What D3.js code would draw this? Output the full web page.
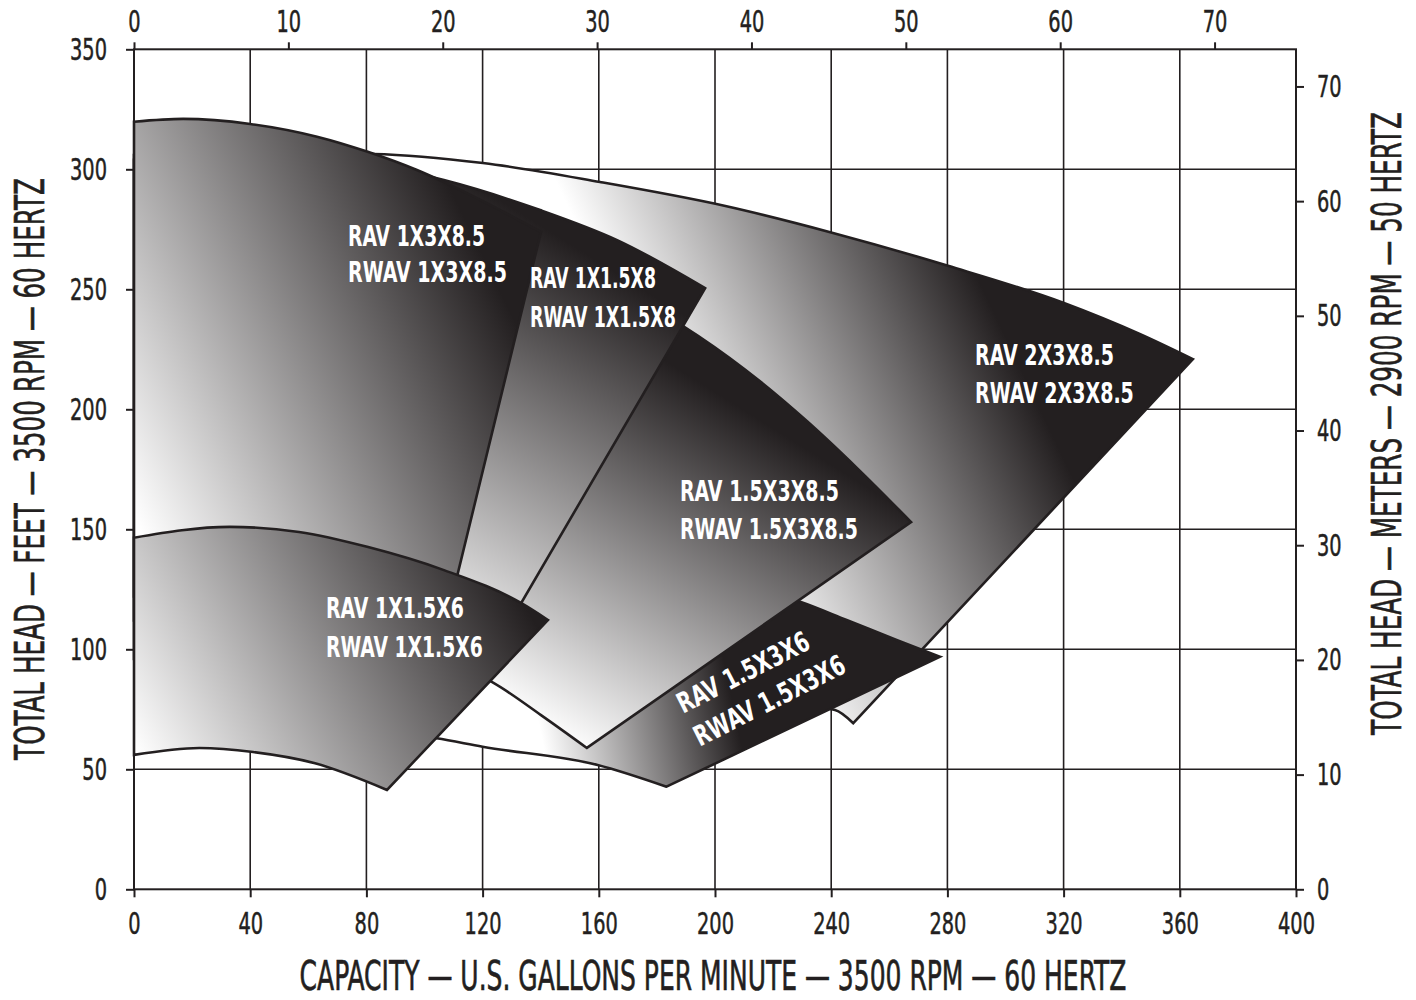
<!DOCTYPE html>
<html><head><meta charset="utf-8">
<script src="https://cdn.jsdelivr.net/npm/d3@7"></script>
<style>
body{margin:0;background:#fff;}
svg{display:block;}
</style></head><body>
<svg id="chart" width="1416" height="1000"></svg>
<script>
// ================= DATA =================
// models, drawn back to front
const models = ["2X3X8.5", "1.5X3X6", "1.5X3X8.5", "1X1.5X8", "1X3X8.5", "1X1.5X6"];
const ravLabels  = ["RAV 2X3X8.5", "RAV 1.5X3X6", "RAV 1.5X3X8.5", "RAV 1X1.5X8", "RAV 1X3X8.5", "RAV 1X1.5X6"];
const rwavLabels = ["RWAV 2X3X8.5", "RWAV 1.5X3X6", "RWAV 1.5X3X8.5", "RWAV 1X1.5X8", "RWAV 1X3X8.5", "RWAV 1X1.5X6"];

// head curves [gpm, feet] : max impeller (top) and min impeller (bottom)
const top_2X3X85    = [[0,304],[40,307],[82.4,306.4],[120.1,302.6],[160.4,294.7],[203.2,284.8],[240.3,273.6],[280.2,259.8],[320.1,244.3],[346,231.5],[364.5,220.9]];
const bottom_2X3X85 = [[0,96],[60,94],[120,90],[180,84],[241.3,74.7],[247.6,69.2]];

const top_15X3X6    = [[60,150],[100,146],[140,140],[180,131],[229.3,119.8],[245.3,112.2],[262.5,103.9],[277.5,96.9]];
const bottom_15X3X6 = [[60,69],[80,66.5],[104.2,62.9],[120,59.4],[159.6,51.8],[183.3,42.75]];

const top_15X3X85    = [[120,268],[150,258],[170,248],[189,234.7],[210.3,216.6],[231.7,195],[248.9,175.5],[267.5,153]];
const bottom_15X3X85 = [[120,88.5],[123.9,85.9],[140.1,72.6],[155.9,58.9]];

const top_1X15X8    = [[0,306],[40,307],[80,302.5],[106.7,295.5],[139.8,283],[166.3,270.5],[196.6,250.5]];
const bottom_1X15X8 = [[0,122],[40,123],[80,116],[105,106],[121.8,95.5]];

const top_1X3X85    = [[0,319.8],[16.9,321],[40,318.9],[63,313.6],[80.2,307.4],[97.4,299.7],[114.6,290.1],[140.1,273.9]];
const bottom_1X3X85 = [[0,112],[30,113],[60,107],[85,96],[102.1,85.1]];

const top_1X15X6    = [[0,146.5],[33,151],[56.8,148.9],[80.6,142.6],[106.7,133],[133.2,119.3],[142.5,112.2]];
const bottom_1X15X6 = [[0,56],[22.5,58.9],[41,57.2],[62,52.6],[87.1,41.4]];

const topCurves    = [top_2X3X85, top_15X3X6, top_15X3X85, top_1X15X8, top_1X3X85, top_1X15X6];
const bottomCurves = [bottom_2X3X85, bottom_15X3X6, bottom_15X3X85, bottom_1X15X8, bottom_1X3X85, bottom_1X15X6];

// axis ticks
const gpmTicks    = [0,40,80,120,160,200,240,280,320,360,400];
const feetTicks   = [0,50,100,150,200,250,300,350];
const m3hTicks    = [0,10,20,30,40,50,60,70];
const meterTicks  = [0,10,20,30,40,50,60,70];

const xTitle  = "CAPACITY — U.S. GALLONS PER MINUTE — 3500 RPM — 60 HERTZ";
const yTitleL = "TOTAL HEAD — FEET — 3500 RPM — 60 HERTZ";
const yTitleR = "TOTAL HEAD — METERS — 2900 RPM — 50 HERTZ";

// ================= STYLE / LAYOUT =================
const W = 1416, H = 1000;
const plot = {left:134, right:1296, top:49.3, bottom:889.3};
const INK = "#231f20";
const FONT = "'Liberation Sans Narrow','Arial Narrow','DejaVu Sans Condensed','Roboto Condensed',sans-serif";
// unit conversions for the secondary axes (2900 rpm / 50 Hz)
const speedRatio = 2900/3500;
const gpmToM3h = 0.227125;
const ftToM = 0.3048;

// gradient anchors in data units [gpm, ft] (light end -> dark end)
const gradAnchors = [
  [[146.6,291.4],[252.0,352.2]],
  [[139.8,66.4],[205.2,83.0]],
  [[146.6,62.2],[215.5,195.5]],
  [[105.0,98.0],[181.1,245.5]],
  [[0.3,153.9],[132.9,232.2]],
  [[2.1,53.9],[126.0,137.2]]
];
// label placement (data units for first line baseline-left), rotation, line gap px, widths px
const labelStyle = [
  {at:[289.5,218.5], rot:0,   gap:38, len:[139,159]},
  {at:[189.0,73.1],  rot:-27, gap:37, len:[145,166]},
  {at:[187.95,161.8],rot:0,   gap:38, len:[159,178]},
  {at:[136.3,250.5], rot:0,   gap:39, len:[126,146]},
  {at:[73.67,268.0], rot:0,   gap:36, len:[137,159]},
  {at:[66.1,113.0],  rot:0,   gap:39, len:[138,157]}
];

// ================= SCALES =================
const x = d3.scaleLinear().domain([0,400]).range([plot.left, plot.right]);
const y = d3.scaleLinear().domain([0,350]).range([plot.bottom, plot.top]);
const xTop = d3.scaleLinear().domain([0, 400*speedRatio*gpmToM3h]).range([plot.left, plot.right]);
const yRight = d3.scaleLinear().domain([0, 350*speedRatio*speedRatio*ftToM]).range([plot.bottom, plot.top]);

const svg = d3.select("#chart");
svg.append("rect").attr("width",W).attr("height",H).attr("fill","#fff");

// helper: place a text and squeeze it horizontally to a target width
function fitText(parent, str, tx, ty, rot, targetW, anchor){
  const t = parent.append("text").attr("x",0).attr("y",0).attr("text-anchor",anchor||"start").text(str);
  const w = t.node().getComputedTextLength();
  const s = w > 0 ? targetW / w : 1;
  t.attr("transform",`translate(${tx},${ty}) rotate(${rot}) scale(${s},1)`);
  return t;
}

// ---- grid ----
const grid = svg.append("g").attr("stroke",INK).attr("stroke-width",1.6);
grid.selectAll("line.v").data(gpmTicks.slice(1,-1)).join("line")
  .attr("x1",d=>x(d)).attr("x2",d=>x(d)).attr("y1",plot.top).attr("y2",plot.bottom);
grid.selectAll("line.h").data(feetTicks.slice(1,-1)).join("line")
  .attr("x1",plot.left).attr("x2",plot.right).attr("y1",d=>y(d)).attr("y2",d=>y(d));

// ---- gradients ----
const defs = svg.append("defs");
models.forEach((m,i)=>{
  const g = defs.append("linearGradient").attr("id","g"+i).attr("gradientUnits","userSpaceOnUse")
    .attr("x1",x(gradAnchors[i][0][0])).attr("y1",y(gradAnchors[i][0][1]))
    .attr("x2",x(gradAnchors[i][1][0])).attr("y2",y(gradAnchors[i][1][1]));
  g.append("stop").attr("offset",0).attr("stop-color","#ffffff");
  g.append("stop").attr("offset",1).attr("stop-color",INK);
});

// ---- shapes ----
const lineGen = d3.line().x(d=>x(d[0])).y(d=>y(d[1])).curve(d3.curveMonotoneX);
function shapePath(topPts, botPts){
  const a = lineGen(topPts);
  const b = lineGen(botPts.slice().reverse());
  return a + "L" + b.slice(1) + "Z";
}
const shapes = svg.append("g");
models.forEach((m,i)=>{
  shapes.append("path")
    .attr("d", shapePath(topCurves[i], bottomCurves[i]))
    .attr("fill","url(#g"+i+")")
    .attr("stroke",INK).attr("stroke-width",2.6).attr("stroke-linejoin","miter");
});

// ---- shape labels ----
const labels = svg.append("g").attr("fill","#fff").attr("font-family",FONT)
  .attr("font-weight","bold").attr("font-size",28);
models.forEach((m,i)=>{
  const s = labelStyle[i];
  const g = labels.append("g")
    .attr("transform",`translate(${x(s.at[0])},${y(s.at[1])}) rotate(${s.rot})`);
  [ravLabels[i], rwavLabels[i]].forEach((t,k)=>{
    fitText(g, t, 0, k*s.gap, 0, s.len[k], "start");
  });
});

// ---- frame ----
svg.append("rect").attr("x",plot.left).attr("y",plot.top)
  .attr("width",plot.right-plot.left).attr("height",plot.bottom-plot.top)
  .attr("fill","none").attr("stroke",INK).attr("stroke-width",2);

// ---- axes ----
const TICK_FS = 31;
// width of a 3-digit tick label in the reference ~37px
const probe = svg.append("text").attr("font-family",FONT).attr("font-size",TICK_FS).text("350");
const tickSqueeze = 37 / probe.node().getComputedTextLength();
probe.remove();
function styleAxis(g){
  g.select(".domain").remove();
  g.selectAll(".tick line").attr("stroke",INK).attr("stroke-width",2);
  g.selectAll(".tick text").attr("fill",INK).attr("font-family",FONT).attr("font-size",TICK_FS)
    .attr("stroke",INK).attr("stroke-width",0.5)
    .each(function(){
      const t = d3.select(this);
      const tx = +t.attr("x") || 0;
      t.attr("x",0).attr("transform",`translate(${tx},0) scale(${tickSqueeze},1)`);
    });
}
svg.append("g").attr("transform",`translate(0,${plot.bottom})`)
  .call(d3.axisBottom(x).tickValues(gpmTicks).tickSize(8).tickPadding(15).tickFormat(d3.format("d")))
  .call(styleAxis);
svg.append("g").attr("transform",`translate(${plot.left},0)`)
  .call(d3.axisLeft(y).tickValues(feetTicks).tickSize(8).tickPadding(19).tickFormat(d3.format("d")))
  .call(styleAxis);
svg.append("g").attr("transform",`translate(0,${plot.top})`)
  .call(d3.axisTop(xTop).tickValues(m3hTicks).tickSize(7).tickPadding(10).tickFormat(d3.format("d")))
  .call(styleAxis);
svg.append("g").attr("transform",`translate(${plot.right},0)`)
  .call(d3.axisRight(yRight).tickValues(meterTicks).tickSize(8).tickPadding(13).tickFormat(d3.format("d")))
  .call(styleAxis);

// ---- axis titles ----
const titles = svg.append("g").attr("fill",INK).attr("font-family",FONT).attr("font-size",41)
  .attr("stroke",INK).attr("stroke-width",0.6);
fitText(titles, xTitle, 713, 990, 0, 827, "middle");
fitText(titles, yTitleL, 44, 469, -90, 582, "middle");
fitText(titles, yTitleR, 1401, 423.5, -90, 623, "middle");
</script>
</body></html>
